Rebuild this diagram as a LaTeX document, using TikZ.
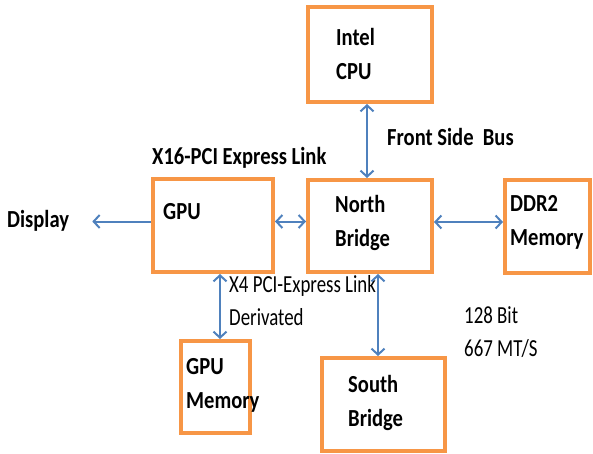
\documentclass[tikz,border=0pt]{standalone}
\usepackage{fontspec}
\setmainfont{Carlito}[FakeStretch=0.84]
\newfontfamily\notefont{Carlito}[FakeStretch=0.77]
\usetikzlibrary{arrows.meta,positioning,calc}
\definecolor{boxline}{HTML}{F79646}
\definecolor{busline}{HTML}{4F81BD}

\begin{document}
\begin{tikzpicture}[x=1pt,y=-1pt,
  every node/.style={font=\fontsize{24.5}{34}\selectfont\bfseries},
  chip/.style={draw=boxline,line width=4pt,inner sep=0pt},
  chiptext/.style={anchor=west,align=left,inner sep=0pt},
  tag/.style={anchor=west,align=left,inner sep=1pt},
  note/.style={tag,font=\fontsize{24.5}{33}\selectfont\notefont},
  link/.style={{Straight Barb[length=6pt,width=13pt]}-{Straight Barb[length=6pt,width=13pt]},line width=2pt,draw=busline},
  feed/.style={-{Straight Barb[length=6pt,width=13pt]},line width=2pt,draw=busline}
]
\useasboundingbox (0,0) rectangle (593,454);
% the chips
\node[chip,minimum width=124pt,minimum height=95pt] (cpu) at (370,54.5) {};
\node[chip,minimum width=124pt,minimum height=92pt] (nb) at (370,226) {};
\node[chip,minimum width=85pt,minimum height=93pt] (ddr) at (547.5,226.5) {};
\node[chip,minimum width=120pt,minimum height=93pt] (gpu) at (213,225.5) {};
\node[chip,minimum width=69pt,minimum height=92pt] (gmem) at (215.5,387) {};
\node[chip,minimum width=123pt,minimum height=93pt] (sb) at (383.5,404.5) {};
\node[chiptext] (cputxt) at ([xshift=30pt,yshift=1pt]cpu.west) {Intel\\CPU};
\node[chiptext] (nbtxt) at ([xshift=29pt,yshift=3pt]nb.west) {North\\Bridge};
\node[chiptext] (ddrtxt) at ([xshift=7pt,yshift=4pt]ddr.west) {DDR2\\Memory};
\node[chiptext] (gputxt) at ([xshift=12pt,yshift=13.5pt]gpu.west) {GPU};
\node[chiptext] (gmemtxt) at ([xshift=7pt,yshift=2pt]gmem.west) {GPU\\Memory};
\node[chiptext] (sbtxt) at ([xshift=28pt,yshift=2pt]sb.west) {South\\Bridge};
% labels
\node[tag] (display) at (6,221) {Display};
\node[tag] (fsb) at (386,137) {Front Side\ \ Bus};
\node[tag] (x16) at (151,158) {X16-PCI Express Link};
\node[note] (x4) at (228,301) {X4 PCI-Express Link\\Derivated};
\node[note] (width) at (463,332.5) {128 Bit\\667 MT/S};
% buses
\draw[link] ([xshift=-3pt]cpu.south) -- ([xshift=-3pt]nb.north);
\draw[link] ([yshift=4pt]gpu.east) -- ([yshift=4pt]gpu.east -| nb.west);
\draw[link] ([yshift=4pt]nb.east) -- ([yshift=4pt]nb.east -| ddr.west);
\draw[feed] ([yshift=4pt]gpu.west) -- ([yshift=4pt]gpu.west -| {$(display.east)+(22pt,0)$});
\draw[link] ([xshift=7pt]gpu.south) -- ([xshift=7pt]gpu.south |- gmem.north);
\draw[link] ([xshift=8pt]nb.south) -- ([xshift=8pt]nb.south |- sb.north);
\end{tikzpicture}
\end{document}
